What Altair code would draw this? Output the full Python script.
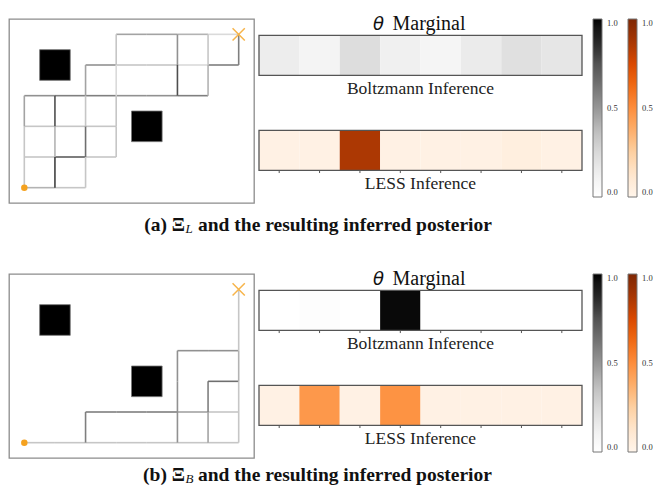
import altair as alt
import pandas as pd

# ---- gridworld geometry -------------------------------------------------
N_COLS, N_ROWS = 8, 6
OBSTACLE_X = [1, 4]
OBSTACLE_Y = [4, 2]
START_X, START_Y = [0], [0]
GOAL_X, GOAL_Y = [7], [5]

# demonstrated trajectory edges: (x1, y1, x2, y2, visit weight)
EDGES_L = [
    (0, 0, 1, 0, 0.27), (1, 0, 2, 0, 0.20),
    (0, 1, 1, 1, 0.20), (1, 1, 2, 1, 0.60), (2, 1, 3, 1, 0.20),
    (0, 2, 1, 2, 0.20), (1, 2, 2, 2, 0.20), (2, 2, 3, 2, 0.20),
    (0, 3, 1, 3, 0.40), (1, 3, 2, 3, 0.47), (2, 3, 3, 3, 0.47),
    (3, 3, 4, 3, 0.40), (4, 3, 5, 3, 0.40), (5, 3, 6, 3, 0.47),
    (2, 4, 3, 4, 0.40), (3, 4, 4, 4, 0.20), (4, 4, 5, 4, 0.20),
    (5, 4, 6, 4, 0.13), (6, 4, 7, 4, 0.47),
    (3, 5, 4, 5, 0.33), (4, 5, 5, 5, 0.33), (5, 5, 6, 5, 0.27), (6, 5, 7, 5, 0.13),
    (0, 0, 0, 1, 0.20), (0, 1, 0, 2, 0.20), (0, 2, 0, 3, 0.33),
    (1, 0, 1, 1, 0.73), (1, 1, 1, 2, 0.27), (1, 2, 1, 3, 0.67),
    (2, 0, 2, 1, 0.20), (2, 1, 2, 2, 0.53), (2, 2, 2, 3, 0.20), (2, 3, 2, 4, 0.33),
    (3, 1, 3, 2, 0.20), (3, 2, 3, 3, 0.20), (3, 3, 3, 4, 0.13), (3, 4, 3, 5, 0.20),
    (5, 3, 5, 4, 0.67), (5, 4, 5, 5, 0.40),
    (6, 3, 6, 4, 0.27), (6, 4, 6, 5, 0.20),
    (7, 4, 7, 5, 0.47),
]
EDGES_B = [
    (0, 0, 1, 0, 0.20), (1, 0, 2, 0, 0.20), (2, 0, 3, 0, 0.20), (3, 0, 4, 0, 0.20),
    (4, 0, 5, 0, 0.20), (5, 0, 6, 0, 0.20), (6, 0, 7, 0, 0.20),
    (2, 0, 2, 1, 0.47),
    (2, 1, 3, 1, 0.47), (3, 1, 4, 1, 0.47), (4, 1, 5, 1, 0.47),
    (5, 1, 6, 1, 0.33), (6, 1, 7, 1, 0.20),
    (5, 0, 5, 1, 0.40), (5, 1, 5, 2, 0.40), (5, 2, 5, 3, 0.40),
    (6, 0, 6, 1, 0.33), (6, 1, 6, 2, 0.47),
    (6, 2, 7, 2, 0.53),
    (5, 3, 6, 3, 0.40), (6, 3, 7, 3, 0.40),
    (7, 0, 7, 1, 0.20), (7, 1, 7, 2, 0.20), (7, 2, 7, 3, 0.27),
    (7, 3, 7, 4, 0.20), (7, 4, 7, 5, 0.20),
]

# ---- theta marginals ----------------------------------------------------
THETA = list(range(8))
METHODS = ["Boltzmann", "LESS"]
METHOD_LABELS = ["Boltzmann Inference", "LESS Inference"]
BOLTZ_L = [0.14, 0.09, 0.23, 0.125, 0.08, 0.15, 0.21, 0.18]
LESS_L = [0.03, 0.03, 0.86, 0.03, 0.03, 0.03, 0.05, 0.03]
BOLTZ_B = [0.0, 0.02, 0.0, 0.98, 0.0, 0.0, 0.0, 0.0]
LESS_B = [0.03, 0.46, 0.03, 0.48, 0.03, 0.03, 0.03, 0.03]

# sequential colour ramps (ColorBrewer Greys / Oranges, white-based)
RAMP_STOPS = [0, 0.125, 0.25, 0.375, 0.5, 0.625, 0.75, 0.875, 1]
GREYS = ["#ffffff", "#f0f0f0", "#d9d9d9", "#bdbdbd", "#969696",
         "#737373", "#525252", "#252525", "#000000"]
ORANGES = ["#fff5eb", "#fee6ce", "#fdd0a2", "#fdae6b", "#fd8d3c",
           "#f16913", "#d94801", "#a63603", "#7f2704"]

GRID_W, GRID_H = 245, 184
STRIP_W = 323
SERIF = "Liberation Serif, Times New Roman, Times, serif"
ORANGE = "#f5a21f"


def gridworld(edges):
    xs = alt.Scale(domain=[-0.5, N_COLS - 0.5], nice=False, zero=False)
    ys = alt.Scale(domain=[-0.5, N_ROWS - 0.5], nice=False, zero=False)
    edf = pd.DataFrame(edges, columns=["x", "y", "x2", "y2", "w"])
    paths = alt.Chart(edf).mark_rule(strokeWidth=1.6).encode(
        x=alt.X("x:Q", scale=xs, axis=None),
        y=alt.Y("y:Q", scale=ys, axis=None),
        x2="x2:Q",
        y2="y2:Q",
        stroke=alt.Stroke("w:Q", scale=alt.Scale(domain=[0, 1], range=["#ffffff", "#000000"]), legend=None),
    )
    odf = pd.DataFrame({"cx": OBSTACLE_X, "cy": OBSTACLE_Y})
    obstacles = alt.Chart(odf).transform_calculate(
        x0="datum.cx - 0.5", x1="datum.cx + 0.5", y0="datum.cy - 0.5", y1="datum.cy + 0.5"
    ).mark_rect(fill="black", stroke="#777777", strokeWidth=0.8).encode(
        x=alt.X("x0:Q", scale=xs, axis=None), x2="x1:Q",
        y=alt.Y("y0:Q", scale=ys, axis=None), y2="y1:Q",
    )
    start = alt.Chart(pd.DataFrame({"x": START_X, "y": START_Y})).mark_point(
        filled=True, shape="circle", size=42, color=ORANGE, opacity=1
    ).encode(x=alt.X("x:Q", scale=xs, axis=None), y=alt.Y("y:Q", scale=ys, axis=None))
    goal = alt.Chart(pd.DataFrame({"x": GOAL_X, "y": GOAL_Y})).mark_point(
        shape="M-1,-1L1,1M-1,1L1,-1", filled=False, size=150, stroke="#f7b44a",
        strokeWidth=1.5, opacity=1
    ).encode(x=alt.X("x:Q", scale=xs, axis=None), y=alt.Y("y:Q", scale=ys, axis=None))
    return alt.layer(paths, obstacles, start, goal).properties(
        width=GRID_W, height=GRID_H,
        view=alt.ViewBackground(stroke="#8c8c8c", strokeWidth=1.3),
    )


COLORBAR_STYLE = dict(
    direction="vertical", gradientLength=178, gradientThickness=9, title=None,
    values=[0, 0.5, 1], format=".1f", labelFont=SERIF, labelFontSize=8.5,
    labelColor="#333333", labelOffset=5, labelOverlap=False,
    gradientStrokeColor="#777777", gradientStrokeWidth=1, padding=0,
)


def marginals(boltz, less, boltz_ticks):
    yband = alt.Scale(domain=METHODS, paddingInner=0.579, paddingOuter=0.258, align=0.333)
    xband = alt.Scale(domain=THETA, paddingInner=0, paddingOuter=0)
    bdf = pd.DataFrame({"theta": THETA, "boltzmann_p": boltz, "method": "Boltzmann"})
    ldf = pd.DataFrame({"theta": THETA, "less_p": less, "method": "LESS"})
    boltz_cells = alt.Chart(bdf).mark_rect().encode(
        x=alt.X("theta:O", scale=xband, axis=None),
        y=alt.Y("method:N", scale=yband, axis=None),
        fill=alt.Fill("boltzmann_p:Q", scale=alt.Scale(domain=RAMP_STOPS, range=GREYS),
                      legend=alt.Legend(orient="right", offset=10, **COLORBAR_STYLE)),
    )
    less_cells = alt.Chart(ldf).mark_rect().encode(
        x=alt.X("theta:O", scale=xband, axis=None),
        y=alt.Y("method:N", scale=yband, axis=None),
        color=alt.Color("less_p:Q", scale=alt.Scale(domain=RAMP_STOPS, range=ORANGES),
                        legend=alt.Legend(orient="none", legendX=619, legendY=0, **COLORBAR_STYLE)),
    )
    tick_methods = METHODS if boltz_ticks else METHODS[1:]
    tdf = pd.DataFrame([(m, t) for m in tick_methods for t in THETA], columns=["method", "theta"])
    ticks = alt.Chart(tdf).mark_point(
        shape="M0,0L0,1", filled=False, size=30, stroke="#555555", strokeWidth=1, opacity=1
    ).encode(
        x=alt.X("theta:O", scale=xband, axis=None),
        y=alt.Y("method:N", scale=yband, axis=None, bandPosition=1),
    )
    mdf = pd.DataFrame({"method": METHODS, "label": METHOD_LABELS})
    frames = alt.Chart(mdf).mark_rect(filled=False, stroke="#555555", strokeWidth=1.3).encode(
        y=alt.Y("method:N", scale=yband, axis=None),
        x=alt.value(0), x2=alt.value(STRIP_W),
    )
    labels = alt.Chart(mdf).mark_text(
        font=SERIF, fontSize=17.5, color="#222222", dy=34
    ).encode(
        y=alt.Y("method:N", scale=yband, axis=None),
        x=alt.value(STRIP_W / 2), text="label:N",
    )
    theta_sym = alt.Chart(pd.DataFrame({"t": ["θ"]})).mark_text(
        font="DejaVu Sans", fontStyle="italic", fontSize=18, align="left",
        baseline="alphabetic", color="#111111"
    ).encode(x=alt.value(114), y=alt.value(10.8), text="t:N")
    theta_word = alt.Chart(pd.DataFrame({"t": ["Marginal"]})).mark_text(
        font=SERIF, fontSize=20, align="left", baseline="alphabetic", color="#111111"
    ).encode(x=alt.value(133.5), y=alt.value(10.8), text="t:N")
    return alt.layer(boltz_cells, less_cells, ticks, frames, labels, theta_sym, theta_word).properties(
        width=STRIP_W, height=GRID_H
    )


def caption(tag, sub, height, baseline):
    head = alt.Chart(pd.DataFrame({"t": [f"({tag}) Ξ"]})).mark_text(
        font=SERIF, fontWeight="bold", fontSize=19.5, align="right", baseline="alphabetic", color="#111111"
    ).encode(x=alt.value(176), y=alt.value(baseline), text="t:N")
    subscript = alt.Chart(pd.DataFrame({"t": [sub]})).mark_text(
        font=SERIF, fontStyle="italic", fontSize=13, align="left", baseline="alphabetic", color="#111111"
    ).encode(x=alt.value(176.5), y=alt.value(baseline + 2.7), text="t:N")
    tail = alt.Chart(pd.DataFrame({"t": ["and the resulting inferred posterior"]})).mark_text(
        font=SERIF, fontWeight="bold", fontSize=19.5, align="left", baseline="alphabetic", color="#111111"
    ).encode(x=alt.value(189), y=alt.value(baseline), text="t:N")
    return alt.layer(head, subscript, tail).properties(width=500, height=height)


row_a = alt.hconcat(gridworld(EDGES_L), marginals(BOLTZ_L, LESS_L, False), spacing=5, bounds="flush")
row_b = alt.hconcat(gridworld(EDGES_B), marginals(BOLTZ_B, LESS_B, True), spacing=5, bounds="flush")

chart = alt.vconcat(
    row_a, caption("a", "L", 64, 26.5), row_b, caption("b", "B", 31, 21.5), spacing=0
).resolve_scale(
    fill="independent", color="independent"
).resolve_legend(
    fill="independent", color="independent"
).properties(
    padding={"left": 8, "top": 13, "right": 0, "bottom": 0}
).configure_view(strokeWidth=0)

chart.save("out.html", embed_options={"renderer": "svg", "actions": False})
